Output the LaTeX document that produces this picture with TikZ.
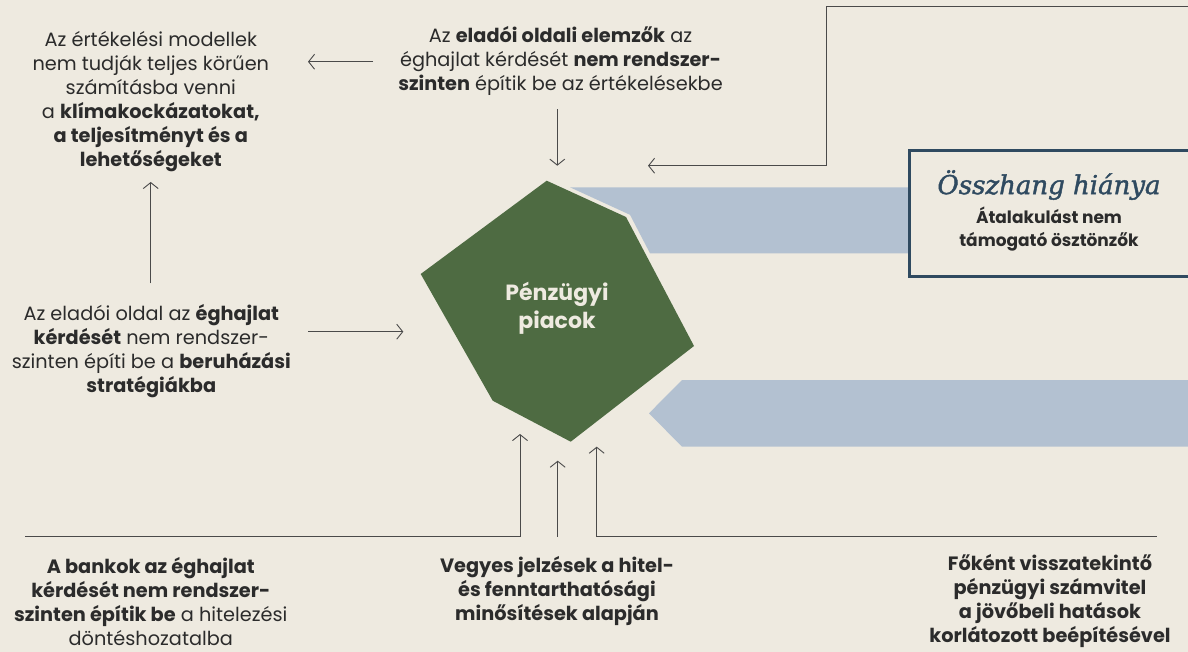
\documentclass[tikz,border=0pt]{standalone}
\usepackage{fontspec}
\setmainfont{Poppins}
\newfontfamily\titlefont[ItalicFeatures={FakeBold=1.6}]{DejaVu Serif}
\usetikzlibrary{arrows.meta}
\definecolor{bgcream}{HTML}{EEEAE0}
\definecolor{mktgreen}{HTML}{4E6B42}
\definecolor{bandblue}{HTML}{B3C1D1}
\definecolor{boxblue}{HTML}{2F4A60}
\definecolor{txtgray}{HTML}{2B2B2B}
\definecolor{linegray}{HTML}{4A4A4A}
\tikzset{
	conn/.style={draw=linegray, line width=.9pt, -{Straight Barb[length=6pt,width=15pt]}},
	body/.style={align=center, text=txtgray, font=\fontsize{19.3}{24}\selectfont, inner sep=0pt}
}

\begin{document}
\begin{tikzpicture}[x=1pt, y=-1pt]
			\fill[bgcream] (0,0) rectangle (1188,652);
			\useasboundingbox (0,0) rectangle (1188,652);

			\fill[bandblue] (570,187.3) -- (1188,187.3) -- (1188,253.3) -- (650,253.3) -- (630,214.8) -- cycle;
			\fill[bandblue] (682,380) -- (1188,380) -- (1188,446.7) -- (682,446.7) -- (649,413.3) -- cycle;
			\fill[mktgreen] (546.7,180.7) -- (626,217) -- (694,346) -- (570.7,441.7) -- (492.7,400.7) -- (420.7,274) -- cycle;
			\node[text=bgcream, align=center, font=\fontsize{22}{28}\selectfont\bfseries] (markets) at (557,308) {Pénzügyi\\piacok};

			\fill[bgcream] (909.3,150.7) rectangle (1190,276.7);
			\draw[boxblue, line width=2.5pt] (1190,150.7) -- (909.3,150.7) -- (909.3,276.7) -- (1190,276.7);
			\node[text=boxblue, font=\titlefont\itshape\fontsize{26}{30}\selectfont, inner sep=0pt] (mismatch) at (1049,185) {Összhang hiánya};
			\node[body, font=\fontsize{17}{23.5}\selectfont\bfseries] (incentives) at (1049,229) {Átalakulást nem\\támogató ösztönzők};

			\node[body] (valuation) at (150.8,101.7) {Az értékelési modellek\\nem tudják teljes körűen\\számításba venni\\a \textbf{klímakockázatokat,}\\\textbf{a teljesítményt és a}\\\textbf{lehetőségeket}};
			\node[body] (analysts) at (560.5,61.3) {Az \textbf{eladói oldali elemzők} az\\éghajlat kérdését \textbf{nem rendszer-}\\\textbf{szinten} építik be az értékelésekbe};
			\node[body] (investors) at (151.3,351) {Az eladói oldal az \textbf{éghajlat}\\\textbf{kérdését} nem rendszer-\\szinten építi be a \textbf{beruházási}\\\textbf{stratégiákba}};
			\node[body] (banks) at (150.8,601.5) {\textbf{A bankok az éghajlat}\\\textbf{kérdését nem rendszer-}\\\textbf{szinten építik be} a hitelezési\\döntéshozatalba};
			\node[body, font=\fontsize{19.3}{24}\selectfont\bfseries] (ratings) at (557,591.5) {Vegyes jelzések a hitel-\\és fenntarthatósági\\minősítések alapján};
			\node[body, font=\fontsize{19.3}{24}\selectfont\bfseries] (accounting) at (1050,601.5) {Főként visszatekintő\\pénzügyi számvitel\\a jövőbeli hatások\\korlátozott beépítésével};

			\coordinate (anaW) at (373,61.7);
			\coordinate (valE) at (308,61.7);
			\coordinate (anaS) at (557.3,109.3);
			\coordinate (mktN) at (557.3,165.7);
			\coordinate (loopIn) at (1188,6.7);
			\coordinate (loopTip) at (648,165.7);
			\coordinate (invN) at (150.7,283.3);
			\coordinate (valS) at (150.7,182);
			\coordinate (invE) at (308.3,331.7);
			\coordinate (mktW) at (403.3,331.7);
			\coordinate (bankIn) at (25,536.7);
			\coordinate (mktSW) at (520,434);
			\coordinate (rateN) at (557.7,536.7);
			\coordinate (mktS) at (557.7,460.7);
			\coordinate (accIn) at (1156.8,536.3);
			\coordinate (mktSE) at (596.7,446.7);

			\draw[conn] (anaW) -- (valE);
			\draw[conn] (anaS) -- (mktN);
			\draw[conn] (loopIn) -| (826.5,165.7) -- (loopTip);
			\draw[conn] (invN) -- (valS);
			\draw[conn] (invE) -- (mktW);
			\draw[conn] (bankIn) -| (mktSW);
			\draw[conn] (rateN) -- (mktS);
			\draw[conn] (accIn) -| (mktSE);
		\end{tikzpicture}
\end{document}
